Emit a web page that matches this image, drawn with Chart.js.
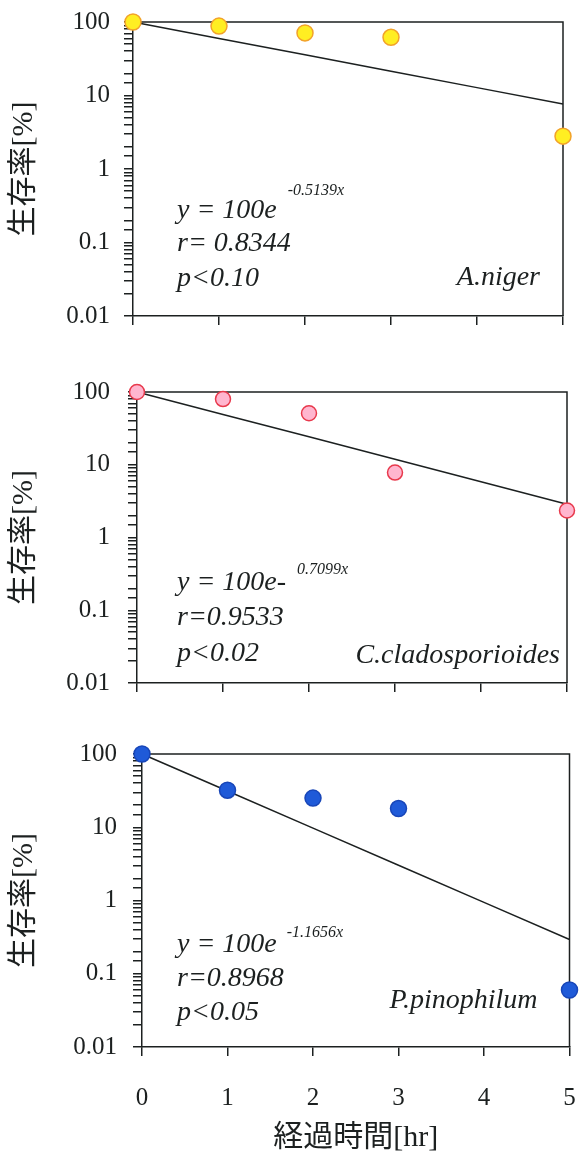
<!DOCTYPE html>
<html lang="ja">
<head>
<meta charset="utf-8">
<script src="https://cdn.jsdelivr.net/npm/chart.js@4.4.1/dist/chart.umd.min.js"></script>
<style>
html, body { margin: 0; padding: 0; background: #fff; }
#wrap { position: relative; width: 579px; height: 1157px; }
canvas { position: absolute; left: 0; }
</style>
</head>
<body>
<div id="wrap">
  <canvas id="g1" width="579" height="350" style="top:0px"></canvas>
  <canvas id="g2" width="579" height="350" style="top:360px"></canvas>
  <canvas id="g3" width="579" height="437" style="top:720px"></canvas>
</div>
<script>
// horas de exposicion y supervivencia medida [%]
const horas = [0, 1, 2, 3, 5];
const nigerVals = [100, 88, 71, 62, 2.8];
const cladoVals = [100, 80, 51, 7.8, 2.35];
const pinoVals = [100, 32, 25, 18, 0.06];

// curvas de ajuste y = 100e^(-kx), valores en cada hora
const horasAjuste = [0, 1, 2, 3, 4, 5];
const nigerAjuste = [100, 59.8, 35.8, 21.4, 12.8, 7.66];
const cladoAjuste = [100, 49.2, 24.2, 11.9, 5.85, 2.87];
const pinoAjuste = [100, 31.2, 9.72, 3.03, 0.944, 0.294];

const ticksY = [0.01, 0.1, 1, 10, 100];
const ticksX = [0, 1, 2, 3, 4, 5];

const tinta = '#1c2020';
const serif = "'Liberation Serif', 'Times New Roman', serif";
const titulo = "'Liberation Serif', 'Noto Sans CJK JP', serif";

// marco superior y derecho
const marco = {
    id: 'marco',
    beforeDatasetsDraw(c) {
        const {ctx, chartArea: a} = c;
        ctx.save();
        ctx.strokeStyle = tinta;
        ctx.lineWidth = 1.5;
        ctx.beginPath();
        ctx.moveTo(a.left, a.top);
        ctx.lineTo(a.right, a.top);
        ctx.lineTo(a.right, a.bottom);
        ctx.stroke();
        ctx.restore();
    }
};

function notas(t) {
    return {
        id: 'notas',
        afterDraw(c) {
            const {ctx, chartArea: a} = c;
            ctx.save();
            ctx.fillStyle = tinta;
            ctx.textAlign = 'left';
            ctx.textBaseline = 'alphabetic';
            ctx.font = 'italic 28px ' + serif;
            const x = a.left + t.dx;
            ctx.fillText(t.ecuacion, x, a.top + t.dy[0]);
            const w = ctx.measureText(t.ecuacion).width;
            ctx.fillText(t.r, x, a.top + t.dy[1]);
            ctx.fillText(t.p, x, a.top + t.dy[2]);
            ctx.textAlign = 'right';
            ctx.fillText(t.especie, a.right - t.er, a.top + t.eb);
            ctx.textAlign = 'left';
            ctx.font = 'italic 16px ' + serif;
            ctx.fillText(t.exp, x + w + t.gap, a.top + t.dy[0] - t.alza);
            ctx.restore();
        }
    };
}

function etiquetaY(v) {
    const t = ticksY.find(k => Math.abs(v - k) < k * 1e-6);
    return t === undefined ? '' : String(t);
}

function grafica(id, vals, ajuste, color, caja, t) {
    new Chart(document.getElementById(id), {
        type: 'scatter',
        data: {
            datasets: [
                {
                    data: horas.map((h, i) => ({x: h, y: vals[i]})),
                    pointRadius: color.radio,
                    backgroundColor: color.relleno,
                    borderColor: color.borde,
                    borderWidth: 1.5,
                    order: 0,
                    clip: false
                },
                {
                    type: 'line',
                    data: horasAjuste.map((h, i) => ({x: h, y: ajuste[i]})),
                    borderColor: tinta,
                    borderWidth: 1.5,
                    pointRadius: 0,
                    tension: 0,
                    fill: false,
                    order: 1,
                    clip: false
                }
            ]
        },
        options: {
            responsive: false,
            animation: false,
            layout: {padding: {top: caja.top, right: caja.right, left: 0, bottom: 0}},
            plugins: {legend: {display: false}, tooltip: {enabled: false}},
            scales: {
                x: {
                    type: 'linear',
                    min: 0,
                    max: 5,
                    afterBuildTicks: s => { s.ticks = ticksX.map(v => ({value: v})); },
                    ticks: {
                        display: caja.conX,
                        autoSkip: false,
                        maxRotation: 0,
                        padding: 27,
                        color: tinta,
                        font: {family: serif, size: 25}
                    },
                    grid: {drawOnChartArea: false, tickLength: 9, color: tinta, lineWidth: 1.5},
                    border: {color: tinta, width: 1.5},
                    title: {
                        display: caja.conX,
                        text: '経過時間[hr]',
                        color: tinta,
                        font: {family: titulo, size: 30, lineHeight: 1.2},
                        padding: {top: 0, bottom: 1}
                    },
                    afterFit: s => {
                        s.height = caja.alto - caja.bottom;
                        // sin margen extra por las etiquetas
                        s.paddingLeft = 0;
                        s.paddingRight = 0;
                    }
                },
                y: {
                    type: 'logarithmic',
                    min: 0.01,
                    max: 100,
                    ticks: {
                        autoSkip: false,
                        padding: caja.padY,
                        color: tinta,
                        font: {family: serif, size: 25},
                        callback: v => etiquetaY(v)
                    },
                    grid: {drawOnChartArea: false, tickLength: 9, color: tinta, lineWidth: 1.5},
                    border: {color: tinta, width: 1.5},
                    title: {
                        display: true,
                        text: '生存率[%]',
                        color: tinta,
                        font: {family: titulo, size: 30, lineHeight: 1.2},
                        padding: {top: 6, bottom: 0}
                    },
                    afterFit: s => {
                        s.width = caja.left;
                        s.paddingTop = 0;
                        s.paddingBottom = 0;
                    }
                }
            }
        },
        plugins: [marco, notas(t)]
    });
}

grafica('g1', nigerVals, nigerAjuste,
    {relleno: '#FFEE22', borde: '#F2A22A', radio: 8},
    {top: 22, right: 16, left: 133, bottom: 316, alto: 350, padY: 14, conX: false},
    {ecuacion: 'y = 100e', exp: '-0.5139x', gap: 11, alza: 23, r: 'r= 0.8344', p: 'p<0.10',
     dx: 44, dy: [196, 229, 264], especie: 'A.niger', er: 23, eb: 263});

grafica('g2', cladoVals, cladoAjuste,
    {relleno: '#FFB6CF', borde: '#E8394C', radio: 7.5},
    {top: 32, right: 12, left: 137, bottom: 323, alto: 350, padY: 18, conX: false},
    {ecuacion: 'y = 100e-', exp: '0.7099x', gap: 11, alza: 16, r: 'r=0.9533', p: 'p<0.02',
     dx: 40, dy: [198, 233, 269], especie: 'C.cladosporioides', er: 7, eb: 271});

grafica('g3', pinoVals, pinoAjuste,
    {relleno: '#1F5AD8', borde: '#1846B8', radio: 8},
    {top: 34, right: 7, left: 142, bottom: 327, alto: 437, padY: 16, conX: true},
    {ecuacion: 'y = 100e', exp: '-1.1656x', gap: 10, alza: 15, r: 'r=0.8968', p: 'p<0.05',
     dx: 35, dy: [198, 232, 266], especie: 'P.pinophilum', er: 32, eb: 254});
</script>
</body>
</html>
